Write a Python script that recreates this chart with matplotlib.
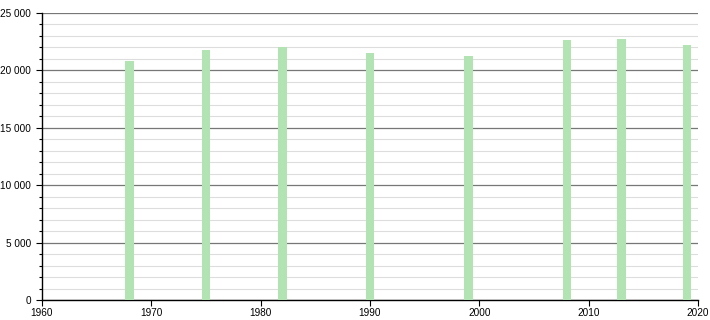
import matplotlib
matplotlib.use('Agg')
import matplotlib.pyplot as plt
from matplotlib.ticker import MultipleLocator, FuncFormatter

plt.rcParams['font.family'] = ['Liberation Sans', 'DejaVu Sans']

# Data
years = [1968, 1975, 1982, 1990, 1999, 2008, 2013, 2019]
population = [20800, 21750, 22020, 21500, 21250, 22650, 22740, 22210]

fig = plt.figure(figsize=(7.1, 3.2), dpi=100)
ax = fig.add_axes([42 / 710, 20 / 320, 656 / 710, 287 / 320])

ax.bar(years, population, width=0.75, color='#b2e3b2', zorder=3)

ax.set_xlim(1960, 2020)
ax.set_ylim(0, 25000)
ax.xaxis.set_major_locator(MultipleLocator(10))
ax.yaxis.set_major_locator(MultipleLocator(5000))
ax.yaxis.set_minor_locator(MultipleLocator(1000))
ax.yaxis.set_major_formatter(FuncFormatter(lambda v, p: f'{int(v):,}'.replace(',', ' ')))

ax.grid(axis='y', which='minor', color='#dddddd', linewidth=0.8, zorder=0)
ax.grid(axis='y', which='major', color='#777777', linewidth=0.9, zorder=1)

for s in ['top', 'right']:
    ax.spines[s].set_visible(False)
for s in ['left', 'bottom']:
    ax.spines[s].set_linewidth(1)

ax.tick_params(axis='both', which='major', labelsize=7.2, length=4, width=0.8)
ax.tick_params(axis='y', which='major', pad=4)
ax.tick_params(axis='x', which='major', pad=2)
ax.tick_params(axis='y', which='minor', length=2.5, width=0.8)

fig.savefig('out.png', dpi=100)
